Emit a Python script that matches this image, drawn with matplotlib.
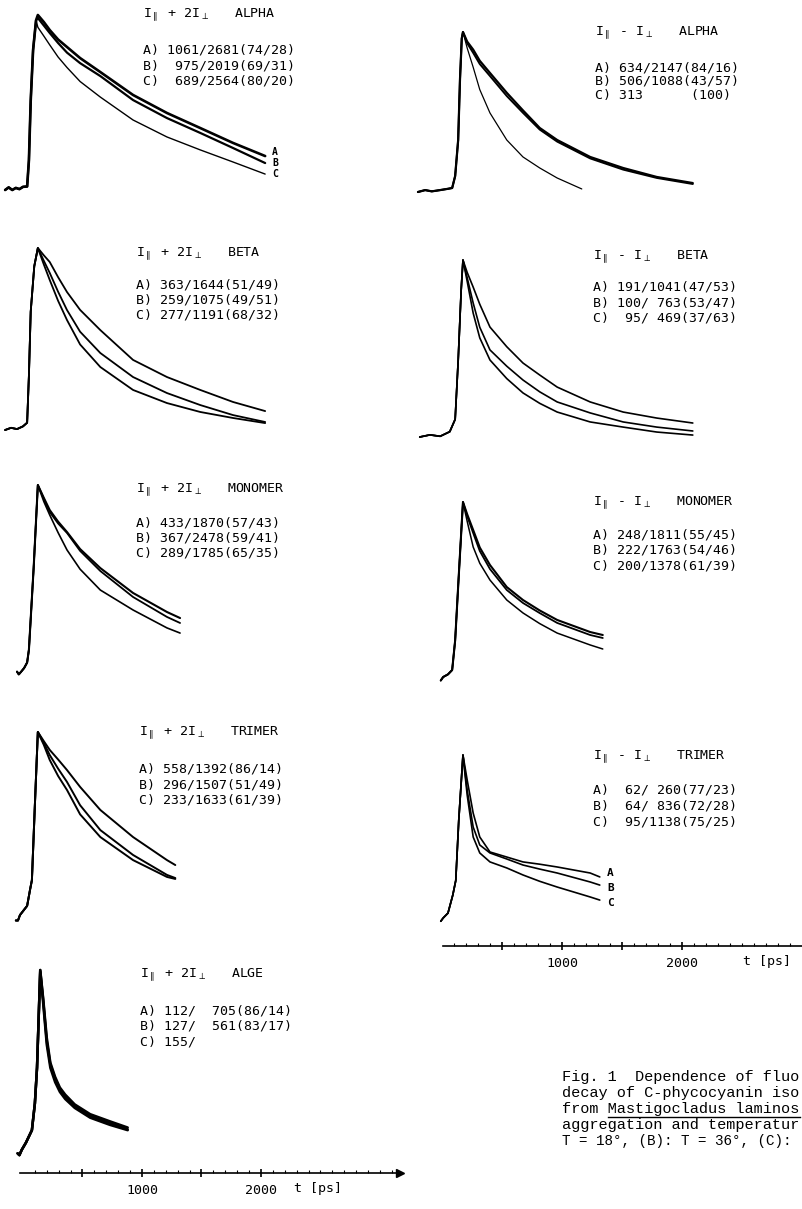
import matplotlib.pyplot as plt
from matplotlib.lines import Line2D

W, H = 802, 1209

# ---- data (t in ps, intensity normalised to peak) ----
# left column: I_par + 2 I_perp
L_ALPHA_RISE_T = [-150, -120, -90, -60, -30, 0, 35, 50, 65, 85, 110]
L_ALPHA_RISE_I = [0.0, 0.015, 0.0, 0.012, 0.005, 0.018, 0.02, 0.17, 0.51, 0.8, 0.97]
L_ALPHA_T = [125, 175, 225, 295, 370, 480, 650, 925, 1210, 1490, 1765, 2035]
L_ALPHA_A = [1.0, 0.96, 0.914, 0.86, 0.817, 0.754, 0.674, 0.543, 0.44, 0.354, 0.269, 0.194]
L_ALPHA_B = [0.983, 0.94, 0.897, 0.84, 0.785, 0.725, 0.651, 0.514, 0.411, 0.326, 0.24, 0.154]
L_ALPHA_C = [0.93, 0.88, 0.829, 0.76, 0.70, 0.62, 0.531, 0.40, 0.303, 0.229, 0.16, 0.091]

L_BETA_RISE_T = [-150, -100, -50, 0, 35, 50, 65, 95]
L_BETA_RISE_I = [0.0, 0.012, 0.005, 0.02, 0.04, 0.3, 0.65, 0.9]
L_BETA_T = [125, 175, 225, 295, 370, 480, 650, 925, 1210, 1490, 1765, 2035]
L_BETA_A = [1.0, 0.96, 0.923, 0.84, 0.758, 0.66, 0.549, 0.385, 0.291, 0.22, 0.154, 0.104]
L_BETA_B = [1.0, 0.93, 0.863, 0.76, 0.659, 0.54, 0.423, 0.291, 0.203, 0.137, 0.082, 0.044]
L_BETA_C = [1.0, 0.91, 0.824, 0.71, 0.604, 0.47, 0.346, 0.22, 0.148, 0.099, 0.066, 0.038]

L_MONO_RISE_T = [-50, -35, -15, 10, 35, 50, 90]
L_MONO_RISE_I = [-0.02, -0.035, -0.02, 0.0, 0.03, 0.1, 0.55]
L_MONO_T = [125, 175, 225, 295, 370, 480, 650, 925, 1210, 1320]
L_MONO_A = [1.0, 0.93, 0.863, 0.80, 0.743, 0.65, 0.546, 0.41, 0.306, 0.273]
L_MONO_B = [1.0, 0.925, 0.852, 0.79, 0.738, 0.64, 0.53, 0.388, 0.279, 0.246]
L_MONO_C = [1.0, 0.91, 0.836, 0.74, 0.645, 0.54, 0.426, 0.317, 0.219, 0.191]

L_TRI_RISE_T = [-60, -42, -25, 35, 60, 75, 100]
L_TRI_RISE_I = [-0.03, -0.03, 0.0, 0.05, 0.14, 0.19, 0.6]
L_TRI_T = [125, 175, 225, 295, 370, 480, 650, 925, 1210, 1280]
L_TRI_A = [1.0, 0.95, 0.902, 0.85, 0.792, 0.70, 0.574, 0.426, 0.30, 0.273]
L_TRI_B = [1.0, 0.94, 0.874, 0.80, 0.727, 0.60, 0.464, 0.328, 0.219, 0.202]
L_TRI_C = [1.0, 0.93, 0.847, 0.76, 0.683, 0.55, 0.426, 0.30, 0.208, 0.197]

L_ALGE_RISE_T = [-45, -30, -10, 25, 75, 100, 118]
L_ALGE_RISE_I = [-0.03, -0.04, -0.01, 0.03, 0.1, 0.25, 0.45]
L_ALGE_T = [145, 170, 200, 230, 270, 310, 355, 435, 565, 730, 880]
L_ALGE_A = [1.0, 0.84, 0.62, 0.48, 0.40, 0.34, 0.30, 0.245, 0.19, 0.15, 0.115]
L_ALGE_B = [1.0, 0.83, 0.60, 0.47, 0.39, 0.33, 0.29, 0.235, 0.18, 0.14, 0.105]
L_ALGE_C = [0.99, 0.81, 0.58, 0.45, 0.37, 0.315, 0.275, 0.225, 0.17, 0.13, 0.10]

# right column: I_par - I_perp
R_ALPHA_RISE_T = [-200, -140, -85, -15, 50, 85, 110, 135, 150, 165]
R_ALPHA_RISE_I = [0.0, 0.012, 0.004, 0.012, 0.02, 0.025, 0.1, 0.325, 0.7, 0.96]
R_ALPHA_T = [175, 210, 260, 315, 400, 540, 675, 815, 960, 1235, 1510, 1790, 2090]
R_ALPHA_A = [1.0, 0.94, 0.89, 0.82, 0.744, 0.62, 0.51, 0.40, 0.325, 0.219, 0.15, 0.094, 0.056]
R_ALPHA_B = [1.0, 0.93, 0.87, 0.80, 0.725, 0.60, 0.495, 0.39, 0.315, 0.21, 0.14, 0.088, 0.05]
R_ALPHA_TC = [175, 210, 260, 315, 400, 540, 675, 815, 960, 1165]
R_ALPHA_C = [1.0, 0.90, 0.78, 0.64, 0.494, 0.325, 0.219, 0.15, 0.0875, 0.019]

R_BETA_RISE_T = [-185, -100, -15, 65, 110, 135, 160]
R_BETA_RISE_I = [0.0, 0.012, 0.004, 0.03, 0.1, 0.43, 0.83]
R_BETA_T = [175, 210, 260, 315, 400, 540, 675, 815, 960, 1235, 1510, 1790, 2090]
R_BETA_A = [1.0, 0.93, 0.847, 0.75, 0.621, 0.51, 0.418, 0.35, 0.282, 0.198, 0.141, 0.107, 0.079]
R_BETA_B = [1.0, 0.90, 0.757, 0.62, 0.492, 0.40, 0.322, 0.255, 0.198, 0.136, 0.085, 0.056, 0.034]
R_BETA_C = [1.0, 0.88, 0.70, 0.56, 0.435, 0.33, 0.249, 0.19, 0.141, 0.085, 0.056, 0.028, 0.011]

R_MONO_RISE_T = [-10, 10, 50, 85, 110, 140]
R_MONO_RISE_I = [-0.02, 0.0, 0.015, 0.04, 0.21, 0.58]
R_MONO_T = [175, 210, 260, 315, 400, 540, 675, 815, 960, 1235, 1340]
R_MONO_A = [1.0, 0.93, 0.84, 0.74, 0.64, 0.514, 0.44, 0.38, 0.326, 0.257, 0.24]
R_MONO_B = [1.0, 0.92, 0.823, 0.72, 0.617, 0.497, 0.423, 0.365, 0.309, 0.24, 0.223]
R_MONO_C = [1.0, 0.89, 0.743, 0.65, 0.554, 0.44, 0.366, 0.305, 0.251, 0.183, 0.16]

R_TRI_RISE_T = [-10, 10, 50, 90, 115, 140]
R_TRI_RISE_I = [-0.02, 0.0, 0.03, 0.14, 0.23, 0.6]
R_TRI_T = [175, 210, 260, 315, 400, 540, 675, 815, 960, 1235, 1315]
R_TRI_A = [1.0, 0.847, 0.644, 0.497, 0.405, 0.374, 0.344, 0.33, 0.313, 0.276, 0.252]
R_TRI_B = [1.0, 0.785, 0.558, 0.448, 0.399, 0.362, 0.325, 0.30, 0.276, 0.221, 0.202]
R_TRI_C = [1.0, 0.755, 0.497, 0.399, 0.344, 0.307, 0.264, 0.225, 0.19, 0.129, 0.11]

TITLE_PLUS = r"I$_\parallel$ + 2I$_\perp$  "
TITLE_MINUS = r"I$_\parallel$ - I$_\perp$  "
L_TITLES = ["ALPHA", "BETA", "MONOMER", "TRIMER", "ALGE"]
R_TITLES = ["ALPHA", "BETA", "MONOMER", "TRIMER"]
L_ROWS = [
    ["A) 1061/2681(74/28)", "B)  975/2019(69/31)", "C)  689/2564(80/20)"],
    ["A) 363/1644(51/49)", "B) 259/1075(49/51)", "C) 277/1191(68/32)"],
    ["A) 433/1870(57/43)", "B) 367/2478(59/41)", "C) 289/1785(65/35)"],
    ["A) 558/1392(86/14)", "B) 296/1507(51/49)", "C) 233/1633(61/39)"],
    ["A) 112/  705(86/14)", "B) 127/  561(83/17)", "C) 155/"],
]
R_ROWS = [
    ["A) 634/2147(84/16)", "B) 506/1088(43/57)", "C) 313      (100)"],
    ["A) 191/1041(47/53)", "B) 100/ 763(53/47)", "C)  95/ 469(37/63)"],
    ["A) 248/1811(55/45)", "B) 222/1763(54/46)", "C) 200/1378(61/39)"],
    ["A)  62/ 260(77/23)", "B)  64/ 836(72/28)", "C)  95/1138(75/25)"],
]
CAPTION = [
    "Fig. 1  Dependence of fluo",
    "decay of C-phycocyanin iso",
    "from Mastigocladus laminos",
    "aggregation and temperatur",
    "T = 18°, (B): T = 36°, (C):",
]

MONO = "DejaVu Sans Mono"
fig = plt.figure(figsize=(W / 100, H / 100), dpi=100)

L_XLIM = (-193, 3168)
R_XLIM = (-433, 3000)


def panel(x0, x1, y_peak, y_base, xlim):
    ax = fig.add_axes([x0 / W, 1 - y_base / H, (x1 - x0) / W, (y_base - y_peak) / H])
    ax.set_xlim(xlim)
    ax.set_ylim(0, 1)
    ax.axis("off")
    return ax


def curves(ax, rt, ri, t, ys, lws, tc=None):
    for k, (y, lw) in enumerate(zip(ys, lws)):
        tt = tc if (tc is not None and k == 2) else t
        ax.plot(rt + tt, ri + y, color="black", lw=lw, clip_on=False,
                solid_joinstyle="round", solid_capstyle="round")


def fxy(px, py):
    return px / W, 1 - py / H


# left column panels
lp = [(15, 190), (248, 430), (485, 668), (732, 915), (970, 1148)]
ldata = [
    (L_ALPHA_RISE_T, L_ALPHA_RISE_I, L_ALPHA_T, [L_ALPHA_A, L_ALPHA_B, L_ALPHA_C], [1.9, 1.6, 1.0]),
    (L_BETA_RISE_T, L_BETA_RISE_I, L_BETA_T, [L_BETA_A, L_BETA_B, L_BETA_C], [1.3, 1.3, 1.3]),
    (L_MONO_RISE_T, L_MONO_RISE_I, L_MONO_T, [L_MONO_A, L_MONO_B, L_MONO_C], [1.5, 1.3, 1.2]),
    (L_TRI_RISE_T, L_TRI_RISE_I, L_TRI_T, [L_TRI_A, L_TRI_B, L_TRI_C], [1.4, 1.4, 1.4]),
    (L_ALGE_RISE_T, L_ALGE_RISE_I, L_ALGE_T, [L_ALGE_A, L_ALGE_B, L_ALGE_C], [1.8, 1.8, 1.8]),
]
for (yp, yb), (rt, ri, t, ys, lws) in zip(lp, ldata):
    ax = panel(0, 400, yp, yb, L_XLIM)
    curves(ax, rt, ri, t, ys, lws)

rp = [(32, 192), (260, 437), (502, 677), (755, 918)]
rdata = [
    (R_ALPHA_RISE_T, R_ALPHA_RISE_I, R_ALPHA_T, [R_ALPHA_A, R_ALPHA_B, R_ALPHA_C], [1.6, 1.4, 0.9], R_ALPHA_TC),
    (R_BETA_RISE_T, R_BETA_RISE_I, R_BETA_T, [R_BETA_A, R_BETA_B, R_BETA_C], [1.2, 1.2, 1.2], None),
    (R_MONO_RISE_T, R_MONO_RISE_I, R_MONO_T, [R_MONO_A, R_MONO_B, R_MONO_C], [1.5, 1.3, 1.1], None),
    (R_TRI_RISE_T, R_TRI_RISE_I, R_TRI_T, [R_TRI_A, R_TRI_B, R_TRI_C], [1.2, 1.2, 1.2], None),
]
for (yp, yb), (rt, ri, t, ys, lws, tc) in zip(rp, rdata):
    ax = panel(390, 802, yp, yb, R_XLIM)
    curves(ax, rt, ri, t, ys, lws, tc)

# panel texts
l_text = [(143, 15, [50, 66, 81]), (136, 254, [285, 300, 315]), (136, 490, [523, 538, 553]),
          (139, 733, [769, 785, 800]), (140, 975, [1011, 1026, 1042])]
for (x, yt, yr), name, rows in zip(l_text, L_TITLES, L_ROWS):
    fig.text(*fxy(x, yt), TITLE_PLUS + " " + name, family=MONO, fontsize=9.5, va="center")
    for y, s in zip(yr, rows):
        fig.text(*fxy(x, y), s, family=MONO, fontsize=9.5, va="center")

r_text = [(595, 33, [68, 81, 95]), (593, 257, [287, 303, 318]), (593, 503, [535, 550, 566]),
          (593, 757, [790, 806, 822])]
for (x, yt, yr), name, rows in zip(r_text, R_TITLES, R_ROWS):
    fig.text(*fxy(x, yt), TITLE_MINUS + " " + name, family=MONO, fontsize=9.5, va="center")
    for y, s in zip(yr, rows):
        fig.text(*fxy(x, y), s, family=MONO, fontsize=9.5, va="center")

# curve letters
for s, y in zip("ABC", [152, 163, 174]):
    fig.text(*fxy(272, y), s, family=MONO, fontsize=7, weight="bold", va="center")
for s, y in zip("ABC", [873, 888, 903]):
    fig.text(*fxy(607, y), s, family=MONO, fontsize=8, weight="bold", va="center")


# time axes
def time_axis(x0, x1, y, xlim, start, label_t):
    ax = fig.add_axes([x0 / W, 1 - y / H, (x1 - x0) / W, 8 / H])
    ax.set_xlim(xlim)
    ax.set_ylim(0, 1)
    for sp in ["top", "left", "right"]:
        ax.spines[sp].set_visible(False)
    ax.spines["bottom"].set_bounds(start, xlim[1])
    ax.spines["bottom"].set_linewidth(1.2)
    ax.set_yticks([])
    ax.set_xticks([500, 1000, 1500, 2000])
    ax.set_xticklabels(["", "1000", "", "2000"], family=MONO, fontsize=9.5)
    ax.set_xticks(range(100, int(xlim[1]), 100), minor=True)
    ax.tick_params(axis="x", which="major", direction="inout", length=6, width=1.2, pad=5)
    ax.tick_params(axis="x", which="minor", direction="in", length=2, width=0.8)
    ax.patch.set_alpha(0)
    ax.text(label_t, -1.15, "t [ps]", family=MONO, fontsize=9.5, ha="center", va="top",
            transform=ax.get_xaxis_transform())
    return ax


axl = time_axis(0, 400, 1173, L_XLIM, -25, 2480)
axl.plot(1, 0, ">k", ms=6, transform=axl.transAxes, clip_on=False)
time_axis(390, 802, 946, R_XLIM, 8, 2708)

# caption
for i, line in enumerate(CAPTION):
    fs = 11 if i < 4 else 10.3
    fig.text(*fxy(562, 1077 + 16 * i), line, family="Liberation Mono", fontsize=fs, va="center")
fig.add_artist(Line2D([608 / W, 800 / W], [1 - 1117 / H, 1 - 1117 / H], color="black", lw=1))

fig.savefig("out.png", dpi=100)
